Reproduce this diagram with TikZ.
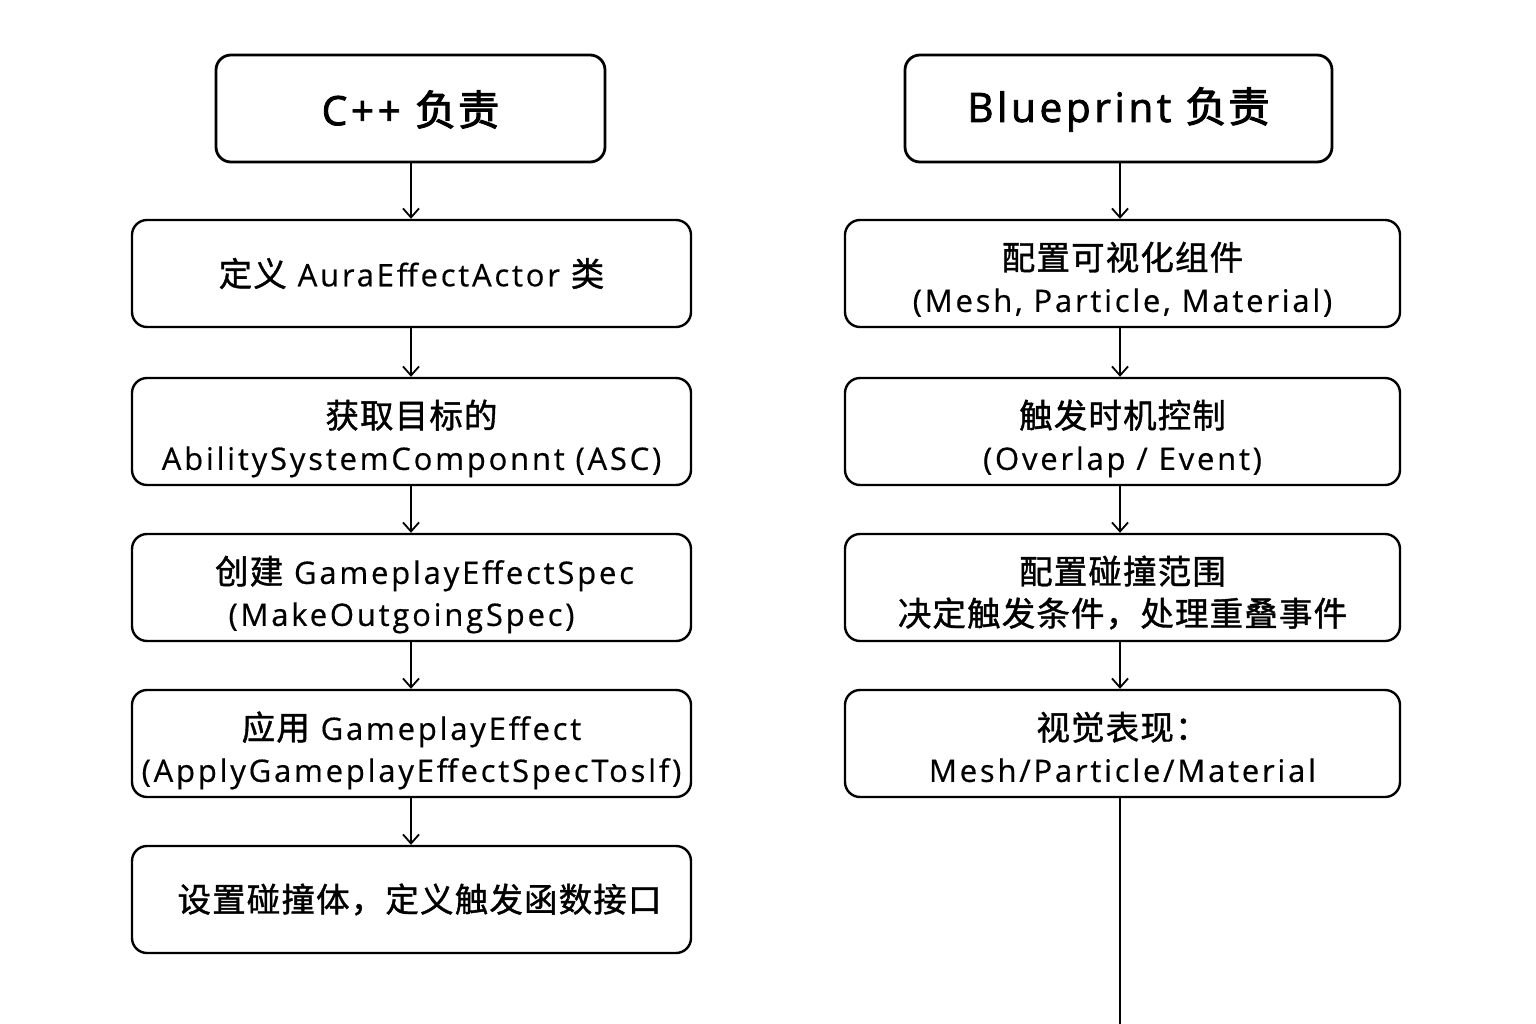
\documentclass[tikz,border=0pt]{standalone}
\usepackage{fontspec}
\setmainfont{Open Sans}[FakeBold=0.5, LetterSpace=9]
\newfontfamily\cjkfam{Noto Sans CJK SC}[FakeBold=1.2, Scale=1.08, LetterSpace=3.5]
\newfontfamily\cjkhead{Noto Sans CJK SC}[FakeBold=2.5, Scale=1.02, LetterSpace=4]
\newfontfamily\latinhead{Open Sans}[FakeBold=2, LetterSpace=9]
\newcommand{\zh}[1]{{\cjkfam #1}}
\newcommand{\zhh}[1]{{\cjkhead #1}}
\newcommand{\twol}[2]{\raisebox{-9pt}[\height][\depth]{\begin{tabular}{@{}c@{}}#1\\#2\end{tabular}}}
\usetikzlibrary{arrows.meta}
\begin{document}
\begin{tikzpicture}[x=1pt,y=-1pt,
  box/.style={draw=black, line width=2.4pt, rounded corners=15pt, fill=white, inner sep=0pt, align=center, font=\fontsize{31}{42}\selectfont, minimum height=107pt},
  lbox/.style={box, minimum width=559pt},
  rbox/.style={box, minimum width=555pt},
  headbox/.style={box, line width=2.8pt, font=\fontsize{40.5}{48}\selectfont\latinhead},
  arr/.style={draw=black, line width=1.8pt, -{Straight Barb[length=9pt,width=16pt,line width=1.8pt]}}
]
\useasboundingbox (0,0) rectangle (1536,1024);
\fill[white] (0,0) rectangle (1536,1024);
% left column
\node[headbox, minimum width=389pt] (lh) at (410.5,108.5) {\raisebox{-1pt}[\height][\depth]{C++ \zhh{负责}}};
\node[lbox] (l1) at (411.5,273.5) {\zh{定义} AuraEffectActor \zh{类}};
\node[lbox] (l2) at (411.5,431.5) {\twol{\zh{获取目标的}}{AbilitySystemComponnt (ASC)}};
\node[lbox] (l3) at (411.5,587.5) {\twol{\hspace*{26pt}\zh{创建} GameplayEffectSpec}{(MakeOutgoingSpec)\hspace*{20pt}}};
\node[lbox] (l4) at (411.5,743.5) {\twol{\zh{应用} GameplayEffect}{(ApplyGameplayEffectSpecToslf)}};
\node[lbox] (l5) at (411.5,899.5) {\hspace*{16pt}\zh{设置碰撞体，定义触发函数接口}};
% right column
\node[headbox, minimum width=427pt] (rh) at (1118.5,108.5) {\raisebox{-1pt}[\height][\depth]{Blueprint \zhh{负责}}};
\node[rbox] (r1) at (1122.5,273.5) {\twol{\zh{配置可视化组件}}{(Mesh, Particle, Material)}};
\node[rbox] (r2) at (1122.5,431.5) {\twol{\zh{触发时机控制}}{(Overlap / Event)}};
\node[rbox] (r3) at (1122.5,587.5) {\twol{\zh{配置碰撞范围}}{\zh{决定触发条件，处理重叠事件}}};
\node[rbox] (r4) at (1122.5,743.5) {\twol{\zh{视觉表现：}}{Mesh/Particle/Material}};
\coordinate (rend) at (1120,1024);
% arrows left
\draw[arr] (lh.south -| 411,0) -- (l1.north -| 411,0);
\draw[arr] (l1.south -| 411,0) -- (l2.north -| 411,0);
\draw[arr] (l2.south -| 411,0) -- (l3.north -| 411,0);
\draw[arr] (l3.south -| 411,0) -- (l4.north -| 411,0);
\draw[arr] (l4.south -| 411,0) -- (l5.north -| 411,0);
% arrows right
\draw[arr] (rh.south -| 1120,0) -- (r1.north -| 1120,0);
\draw[arr] (r1.south -| 1120,0) -- (r2.north -| 1120,0);
\draw[arr] (r2.south -| 1120,0) -- (r3.north -| 1120,0);
\draw[arr] (r3.south -| 1120,0) -- (r4.north -| 1120,0);
\draw[line width=1.8pt] (r4.south -| rend) -- (rend);
\end{tikzpicture}
\end{document}
